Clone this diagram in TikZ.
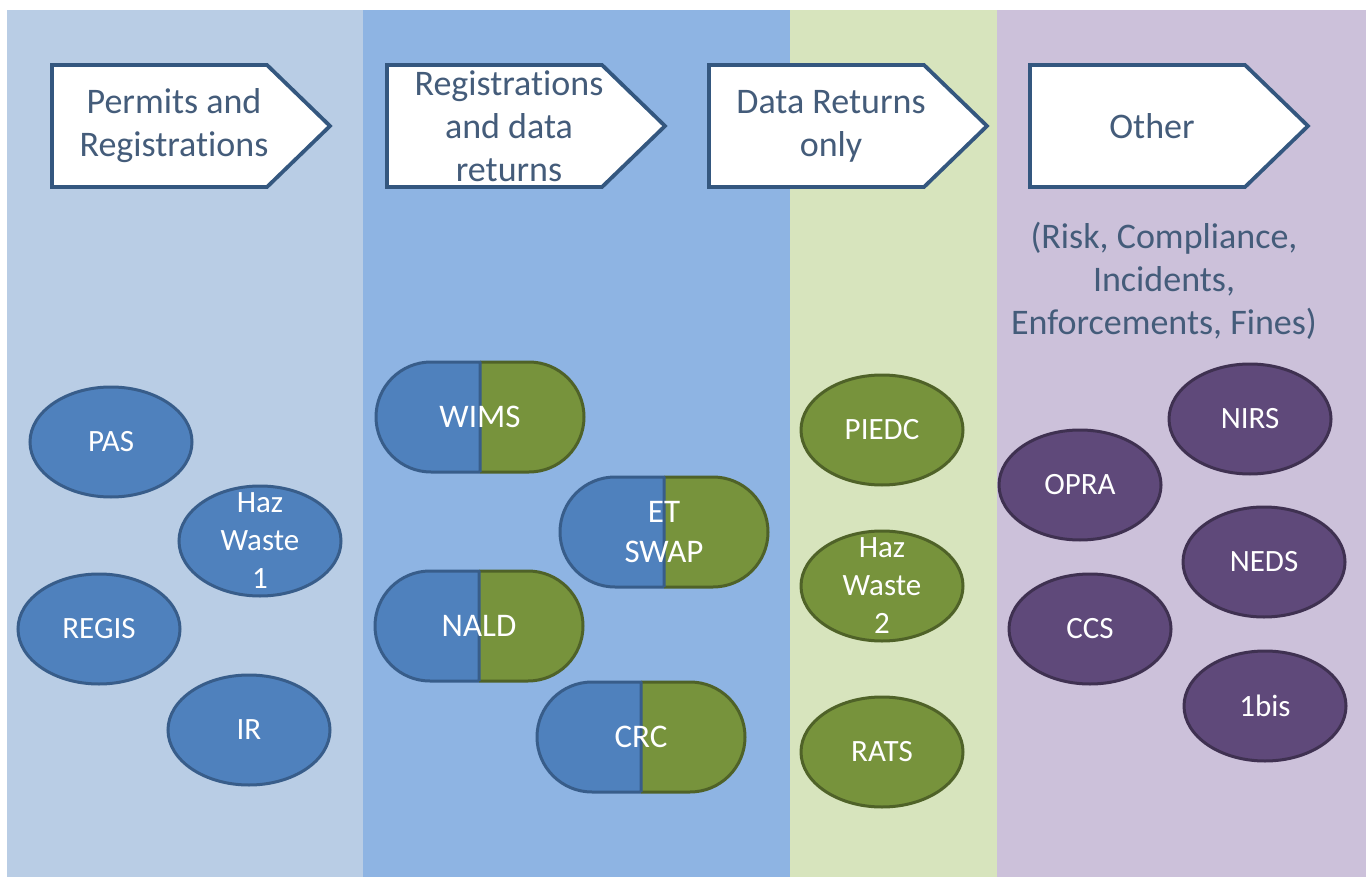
\documentclass[tikz,border=0pt]{standalone}
\usepackage{fontspec}
\setmainfont{Carlito}[Ligatures=NoCommon]
\usetikzlibrary{shapes.geometric}
\definecolor{colA}{HTML}{B9CDE5}
\definecolor{colB}{HTML}{8EB4E3}
\definecolor{colC}{HTML}{D7E4BD}
\definecolor{colD}{HTML}{CCC1DA}
\definecolor{bfill}{HTML}{4F81BD}
\definecolor{bline}{HTML}{385D8A}
\definecolor{gfill}{HTML}{77933C}
\definecolor{gline}{HTML}{4F6228}
\definecolor{pfill}{HTML}{5F497A}
\definecolor{pline}{HTML}{3F3151}
\definecolor{hdrline}{HTML}{34577F}
\definecolor{hdrtxt}{RGB}{68,92,122}
\tikzset{
  hdrshape/.style={draw=hdrline, fill=white, line width=3.8pt, line join=miter},
  hdrtext/.style={text=hdrtxt, font=\fontsize{36}{43}\selectfont, align=center, inner sep=0pt},
  ell/.style={ellipse, minimum width=162pt, minimum height=110pt, inner sep=0pt, line width=3pt},
  blueell/.style={ell, fill=bfill, draw=bline},
  greenell/.style={ell, fill=gfill, draw=gline},
  purpleell/.style={ell, fill=pfill, draw=pline},
  elltext/.style={text=white, font=\fontsize{31}{38}\selectfont, align=center, inner sep=0pt},
  pilltext/.style={text=white, font=\fontsize{33}{40}\selectfont, align=center, inner sep=0pt},
  pillline/.style={line width=3pt, line join=round}
}
\newcommand\hdrbox[3]{%
  \draw[hdrshape] (#2,-65) -- (#2+215,-65) -- (#2+278,-126) -- (#2+215,-187) -- (#2,-187) -- cycle;
  \node[hdrtext] (#1) at (#2+122,-126) {#3};
}
\newcommand\ellnode[5]{%
  \node[#1] (#2) at (#3,-#4) {};
  \node[elltext] (#2t) at (#2.center) {#5};
}
\newcommand\pill[4]{%
  \fill[bfill] (#2,-#3+55) -- (#2-49,-#3+55) arc[start angle=90,end angle=270,radius=55pt] -- (#2,-#3-55) -- cycle;
  \fill[gfill] (#2,-#3+55) -- (#2+49,-#3+55) arc[start angle=90,end angle=-90,radius=55pt] -- (#2,-#3-55) -- cycle;
  \draw[pillline, gline] (#2,-#3+55) -- (#2+49,-#3+55) arc[start angle=90,end angle=-90,radius=55pt] -- (#2,-#3-55);
  \draw[pillline, bline] (#2,-#3-55) -- (#2,-#3+55) -- (#2-49,-#3+55) arc[start angle=90,end angle=270,radius=55pt] -- (#2,-#3-55);
  \node[pilltext] (#1) at (#2,-#3) {#4};
}
\begin{document}
\begin{tikzpicture}[x=1pt,y=1pt]
\useasboundingbox (0,0) rectangle (1370,-877);
\fill[white] (0,0) rectangle (1370,-877);
\fill[colA] (7,-10) rectangle (363,-877);
\fill[colB] (363,-10) rectangle (790,-877);
\fill[colC] (790,-10) rectangle (997,-877);
\fill[colD] (997,-10) rectangle (1366,-877);

\hdrbox{h1}{52}{Permits and\\Registrations}
\hdrbox{h2}{387}{Registrations\\and data\\returns}
\hdrbox{h3}{709}{Data Returns\\only}
\hdrbox{h4}{1030}{Other}

\node[hdrtext] (other) at (1164,-281) {\fontsize{36}{42}\selectfont(Risk, Compliance,\\Incidents,\\Enforcements, Fines)};

\ellnode{blueell}{pas}{111}{442}{PAS}
\ellnode{blueell}{haz1}{260}{541}{Haz\\Waste\\1}
\ellnode{blueell}{regis}{99}{629}{REGIS}
\ellnode{blueell}{ir}{249}{730}{IR}

\pill{wims}{480}{417}{WIMS}
\pill{etswap}{664}{532}{ET\\SWAP}
\pill{nald}{479}{626}{NALD}
\pill{crc}{641}{737}{CRC}

\ellnode{greenell}{piedc}{882}{430}{PIEDC}
\ellnode{greenell}{haz2}{882}{586}{Haz\\Waste\\2}
\ellnode{greenell}{rats}{882}{752}{RATS}

\ellnode{purpleell}{nirs}{1250}{419}{NIRS}
\ellnode{purpleell}{opra}{1080}{485}{OPRA}
\ellnode{purpleell}{neds}{1264}{562}{NEDS}
\ellnode{purpleell}{ccs}{1090}{629}{CCS}
\ellnode{purpleell}{onebis}{1265}{706}{1bis}
\end{tikzpicture}
\end{document}
